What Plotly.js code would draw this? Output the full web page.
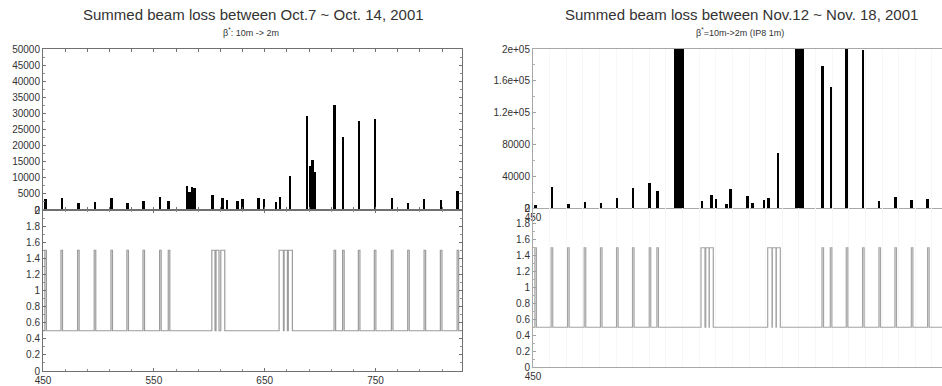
<!DOCTYPE html>
<html>
<head>
<meta charset="utf-8">
<script src="https://cdn.plot.ly/plotly-3.0.1.min.js"></script>
<style>
  html, body { margin: 0; padding: 0; background: #fff; }
  #chart { width: 942px; height: 386px; }
</style>
</head>
<body>
<div id="chart"></div>
<script>
// ---- Oct.7 ~ Oct.14 run: summed beam loss per fill ----
const octBarX = [452.4, 466.9, 481.9, 496.9, 511.7, 526.2, 540.5, 555.6, 563.1,
                 580.0, 582.3, 584.5, 586.7,
                 602.8, 611.8, 615.8, 625.4, 629.9, 644.3, 649.5, 660.0, 663.9, 672.7,
                 688.0, 690.7, 693.1, 695.5,
                 713.0, 720.5, 735.2, 749.6, 764.7, 779.4, 793.9, 808.9, 824.0];
const octBarLoss = [3300, 3700, 2100, 2500, 3700, 2300, 2900, 4000, 2900,
                    7300, 5500, 7100, 6800,
                    4700, 3700, 3100, 2800, 3300, 3800, 3300, 2600, 4000, 10600,
                    29200, 13700, 15500, 11900,
                    32600, 22700, 27600, 28200, 3600, 2300, 3400, 3000, 6000];
// pulse windows (start, end) of the lower state trace
const octPulseStart = [451.7, 466.2, 481.2, 496.2, 511.3, 525.7, 540.2, 555.2, 563.0,
                       602.3, 606.1, 610.4, 663.0, 667.5, 671.3,
                       712.6, 720.3, 734.5, 748.9, 764.3, 779.0, 793.8, 808.5, 823.6];
const octPulseEnd   = [453.1, 467.6, 482.6, 497.6, 512.7, 527.1, 541.6, 556.6, 564.4,
                       605.2, 608.8, 614.0, 666.9, 670.5, 675.0,
                       714.0, 721.7, 735.9, 750.3, 765.7, 780.4, 795.2, 809.9, 825.0];

// ---- Nov.12 ~ Nov.18 run ----
const novBarX = [452.4, 466.9, 481.9, 496.7, 511.4, 525.8, 540.3, 555.0, 562.5,
                 578.4, 580.7, 583.0, 585.4,
                 602.3, 610.9, 614.9, 624.8, 628.4, 643.4, 647.9, 658.5, 662.7, 671.1,
                 687.6, 689.8, 691.8, 693.8,
                 711.1, 718.7, 733.1, 747.6, 762.3, 777.0, 791.5, 806.2];
const novBarLoss = [4000, 26000, 4600, 8000, 6700, 13000, 25000, 31000, 21500,
                    260000, 260000, 260000, 260000,
                    8800, 16400, 11000, 4600, 23600, 15000, 6700, 10000, 12000, 69800,
                    260000, 260000, 260000, 260000,
                    178000, 152000, 210000, 199000, 9200, 14300, 9700, 11000];
const novPulseStart = [451.7, 466.4, 481.2, 496.2, 510.9, 525.4, 539.8, 554.9, 561.8,
                       601.6, 605.9, 609.1, 661.8, 666.0, 669.6,
                       710.8, 718.3, 732.7, 747.4, 762.2, 776.6, 791.4, 806.1];
const novPulseEnd   = [453.1, 467.8, 482.6, 497.6, 512.3, 526.8, 541.2, 556.3, 563.2,
                       605.2, 608.9, 612.7, 665.7, 669.3, 673.2,
                       712.2, 719.7, 734.1, 748.8, 763.6, 778.0, 792.8, 807.5];

// tick labels
const octLossTicks = [0, 5000, 10000, 15000, 20000, 25000, 30000, 35000, 40000, 45000, 50000];
const octLossText  = ['0', '5000', '10000', '15000', '20000', '25000', '30000', '35000', '40000', '45000', '50000'];
const novLossTicks = [0, 40000, 80000, 120000, 160000, 200000];
const novLossText  = ['0', '40000', '80000', '1.2e+05', '1.6e+05', '2e+05'];
const timeTicks    = [450, 550, 650, 750];

const OCT_RANGE = [450, 828];
const NOV_RANGE = [450, 819.1];
const BASE = 0.5, HIGH = 1.5;

// build a step trace from the pulse windows
function stepLine(starts, ends, range) {
  const x = [range[0]], y = [BASE];
  for (let i = 0; i < starts.length; i++) {
    x.push(starts[i]); y.push(HIGH);
    x.push(ends[i]);   y.push(BASE);
  }
  x.push(range[1]); y.push(BASE);
  return { x, y };
}

const W = 942, H = 386;
const fx = p => p / W;
const fy = p => 1 - p / H;

const octStep = stepLine(octPulseStart, octPulseEnd, OCT_RANGE);
const novStep = stepLine(novPulseStart, novPulseEnd, NOV_RANGE);

const traces = [
  { type: 'bar', x: octBarX, y: octBarLoss, width: 2.2, xaxis: 'x', yaxis: 'y',
    marker: { color: '#000', line: { width: 0 } }, hoverinfo: 'skip' },
  { type: 'scatter', mode: 'lines', x: octStep.x, y: octStep.y, xaxis: 'x2', yaxis: 'y2',
    line: { color: '#9c9c9c', width: 1.2, shape: 'hv' }, hoverinfo: 'skip' },
  { type: 'bar', x: novBarX, y: novBarLoss, width: 2.2, xaxis: 'x3', yaxis: 'y3',
    marker: { color: '#000', line: { width: 0 } }, hoverinfo: 'skip' },
  { type: 'scatter', mode: 'lines', x: novStep.x, y: novStep.y, xaxis: 'x4', yaxis: 'y4',
    line: { color: '#a4a4a4', width: 1.2, shape: 'hv' }, hoverinfo: 'skip' }
];

const tickFont = { family: 'Liberation Sans, Arial, sans-serif', size: 10, color: '#333' };
const darkAxis = {
  showline: true, linecolor: '#707070', linewidth: 1, mirror: 'ticks',
  ticks: 'inside', ticklen: 3, tickcolor: '#707070', tickwidth: 1,
  showgrid: false, zeroline: false, tickfont: tickFont, fixedrange: true
};
const lightAxis = {
  showline: true, linecolor: '#a8a8a8', linewidth: 1,
  ticks: 'inside', ticklen: 3, tickcolor: '#a0a0a0', tickwidth: 1,
  showgrid: false, zeroline: false, tickfont: tickFont, fixedrange: true
};

const leftX = [fx(43), fx(462)];
const rightX = [fx(533), 1];

const layout = {
  width: W, height: H,
  margin: { l: 0, r: 0, t: 0, b: 0 },
  paper_bgcolor: '#fff', plot_bgcolor: '#fff',
  showlegend: false, bargap: 0,
  font: { family: 'Liberation Sans, Arial, sans-serif', color: '#333' },

  xaxis: Object.assign({}, darkAxis, {
    domain: leftX, anchor: 'y', range: OCT_RANGE, showticklabels: false,
    tick0: 450, dtick: 20
  }),
  yaxis: Object.assign({}, darkAxis, {
    domain: [fy(210), fy(49)], anchor: 'x', range: [0, 50000],
    tickmode: 'array', tickvals: octLossTicks, ticktext: octLossText,
    minor: { ticks: 'inside', ticklen: 2, tickcolor: '#909090', dtick: 2500 }
  }),
  xaxis2: Object.assign({}, darkAxis, {
    domain: leftX, anchor: 'y2', range: OCT_RANGE,
    tickmode: 'array', tickvals: timeTicks, ticklen: 3,
    minor: { ticks: 'inside', ticklen: 2, tickcolor: '#909090', tick0: 450, dtick: 20 }
  }),
  yaxis2: Object.assign({}, darkAxis, {
    domain: [fy(371), fy(210)], anchor: 'x2', range: [0, 2],
    tick0: 0, dtick: 0.2,
    minor: { ticks: 'inside', ticklen: 2, tickcolor: '#909090', dtick: 0.1 }
  }),

  xaxis3: Object.assign({}, lightAxis, {
    domain: rightX, anchor: 'y3', range: NOV_RANGE, mirror: true,
    tickmode: 'array', tickvals: [450], ticks: '',
    minor: { showgrid: true, gridcolor: '#f7f7f7', tick0: 450, dtick: 15 }
  }),
  yaxis3: Object.assign({}, lightAxis, {
    domain: [fy(208), fy(49)], anchor: 'x3', range: [0, 200000],
    tickmode: 'array', tickvals: novLossTicks, ticktext: novLossText,
    minor: { ticks: 'inside', ticklen: 2, tickcolor: '#b0b0b0', dtick: 20000 }
  }),
  xaxis4: Object.assign({}, lightAxis, {
    domain: rightX, anchor: 'y4', range: NOV_RANGE,
    tickmode: 'array', tickvals: [450], ticks: '',
    minor: { showgrid: true, gridcolor: '#f7f7f7', tick0: 450, dtick: 15 }
  }),
  yaxis4: Object.assign({}, lightAxis, {
    domain: [fy(367), fy(208)], anchor: 'x4', range: [0, 2],
    tick0: 0, dtick: 0.2,
    minor: { ticks: 'inside', ticklen: 2, tickcolor: '#b0b0b0', dtick: 0.1 }
  }),

  annotations: [
    { text: 'Summed beam loss between Oct.7 ~ Oct. 14, 2001', xref: 'paper', yref: 'paper',
      x: fx(253), y: fy(14), xanchor: 'center', yanchor: 'middle', showarrow: false,
      font: { size: 15, color: '#333' } },
    { text: 'β<sup>*</sup>: 10m -> 2m', xref: 'paper', yref: 'paper',
      x: fx(251), y: fy(32), xanchor: 'center', yanchor: 'middle', showarrow: false,
      font: { size: 9, color: '#333' } },
    { text: 'Summed beam loss between Nov.12 ~ Nov. 18, 2001', xref: 'paper', yref: 'paper',
      x: fx(741), y: fy(14), xanchor: 'center', yanchor: 'middle', showarrow: false,
      font: { size: 15, color: '#333' } },
    { text: 'β<sup>*</sup>=10m->2m (IP8 1m)', xref: 'paper', yref: 'paper',
      x: fx(740), y: fy(32), xanchor: 'center', yanchor: 'middle', showarrow: false,
      font: { size: 9, color: '#333' } }
  ]
};

Plotly.newPlot('chart', traces, layout, { staticPlot: true, displayModeBar: false });
</script>
</body>
</html>
